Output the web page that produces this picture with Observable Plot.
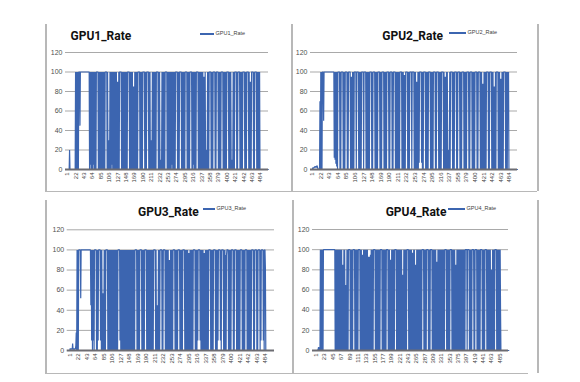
<!DOCTYPE html>
<html>
<head>
<meta charset="utf-8">
<script src="https://cdn.jsdelivr.net/npm/d3@7"></script>
<script src="https://cdn.jsdelivr.net/npm/@observablehq/plot@0.6"></script>
<style>
  html, body { margin:0; padding:0; background:#fff; }
  #root { position:relative; width:580px; height:382px; overflow:hidden; background:#fff; }
  .title { position:absolute; font-family:Roboto, "Liberation Sans", sans-serif; font-weight:700; font-size:12px; line-height:1; color:#111; white-space:nowrap; }
  .legtext { position:absolute; font-family:"Liberation Sans", Arial, sans-serif; font-size:5.5px; line-height:1; color:#404040; white-space:nowrap; }
  .legline { position:absolute; height:2px; background:#3C65B0; }
  .bline { position:absolute; background:#b8b8b8; }
</style>
</head>
<body>
<div id="root"></div>
<script>
// ---------- data ----------
const seriesNames = ["GPU1_Rate", "GPU2_Rate", "GPU3_Rate", "GPU4_Rate"];
const yTicks = [0, 20, 40, 60, 80, 100, 120];
const xTicks21 = [1,22,43,64,85,106,127,148,169,190,211,232,253,274,295,316,337,358,379,400,421,442,463,484];
const xTicks22 = [1,23,45,67,89,111,133,155,177,199,221,243,265,287,309,331,353,375,397,419,441,463,485];

const gpu1 = [
0,0,0,0,0,0,20,0,0,0,0,0,0,0,0,0,0,0,0,0,
0,100,0,100,0,100,0,100,0,100,100,100,45,100,100,100,100,100,100,100,
100,100,100,100,100,100,100,100,100,100,100,100,100,100,100,100,0,100,5,100,
0,100,0,100,0,100,5,100,0,100,0,100,0,100,100,100,100,100,0,100,
0,100,0,100,0,100,0,100,0,100,0,100,0,100,0,100,100,100,100,100,
0,100,0,30,0,30,0,100,0,100,0,100,5,100,0,100,0,100,0,100,
0,100,0,100,0,90,0,90,0,100,0,100,100,100,100,100,0,100,0,100,
0,100,0,100,0,100,0,100,0,100,0,100,100,100,100,100,0,100,0,100,
0,100,0,100,0,85,0,85,0,100,0,100,0,100,0,100,0,100,100,100,
100,100,0,100,0,100,0,100,0,100,100,100,100,100,0,100,0,100,0,100,
100,100,100,100,0,100,0,100,0,30,0,30,0,100,0,100,0,100,0,100,
0,100,0,100,100,100,100,100,0,100,0,100,0,10,0,10,0,100,0,100,
0,100,0,100,0,100,100,100,100,100,0,100,0,100,0,100,0,100,0,100,
0,100,5,100,0,100,0,100,0,100,0,100,100,100,100,100,0,100,0,100,
0,100,100,100,100,100,0,100,0,100,0,100,0,100,0,100,100,100,100,100,
0,100,0,100,0,100,0,100,100,100,100,100,0,100,0,100,5,100,0,100,
0,100,0,100,100,100,100,100,0,100,0,100,0,100,0,100,0,100,0,100,
0,95,0,95,0,100,0,20,0,20,0,100,0,100,0,100,100,100,100,100,
0,100,0,100,0,100,100,100,100,100,0,100,0,100,100,100,100,100,0,100,
0,100,0,100,0,100,100,100,100,100,0,100,0,100,0,100,0,100,0,100,
100,100,100,100,0,100,0,100,0,100,0,10,0,10,0,100,0,100,0,100,
100,100,100,100,0,100,0,100,100,100,100,100,0,100,0,100,0,100,0,100,
100,100,100,100,0,100,0,100,0,100,100,100,100,100,0,100,0,90,0,90,
0,100,100,100,100,100,0,100,0,100,100,100,100,100,0,100,0,100,0,100,
0,100,0,0,0,0,0,0,0,0,0,0,0,0,0,0,0,0,0,0,
0,0,0,0,0
];

const gpu2 = [
0,1,2,1,2,2,3,2,3,3,2,3,4,2,1,0,0,0,0,70,
0,100,0,100,0,100,100,100,50,100,100,100,100,100,100,100,100,100,100,100,
100,100,100,100,100,100,100,100,100,100,100,100,100,100,12,100,10,100,6,100,
3,100,0,100,100,100,100,100,0,100,0,100,100,100,100,100,0,100,0,100,
0,100,100,100,100,100,0,100,0,100,100,100,100,100,0,95,0,95,0,100,
0,100,0,100,100,100,100,100,0,100,100,100,100,100,0,100,0,100,0,100,
0,100,100,100,100,100,0,100,100,100,100,100,0,100,0,100,0,100,0,100,
0,100,100,100,100,100,0,100,0,100,100,100,100,100,0,100,0,100,0,100,
0,100,100,100,100,100,0,100,0,100,0,100,100,100,100,100,0,100,0,100,
0,100,0,100,100,100,100,100,0,100,0,100,100,100,100,100,0,100,0,100,
100,100,100,100,0,100,0,100,0,100,0,100,0,100,0,100,100,100,100,100,
0,100,0,100,0,97,0,97,0,100,100,100,100,100,0,100,0,100,0,100,
100,100,100,100,0,100,100,100,100,100,0,100,0,100,0,90,0,90,0,100,
0,100,7,100,100,100,100,100,7,100,0,100,0,100,100,100,100,100,0,100,
0,100,0,100,0,100,100,100,100,100,0,100,0,100,0,100,0,100,100,100,
100,100,0,100,0,100,100,100,100,100,0,100,0,100,0,100,0,100,100,100,
100,100,0,100,0,95,0,95,0,100,0,100,0,20,0,20,0,100,0,100,
100,100,100,100,0,100,0,100,0,100,100,100,100,100,0,100,0,100,100,100,
100,100,0,100,0,100,0,100,100,100,100,100,0,100,0,100,0,100,0,100,
100,100,100,100,0,100,0,100,100,100,100,100,0,100,0,100,0,100,0,100,
100,100,100,100,0,100,0,100,100,100,100,100,0,100,0,100,0,88,0,88,
0,100,0,100,0,100,0,100,100,100,100,100,0,100,0,100,100,100,100,100,
0,100,0,100,0,85,0,85,0,100,0,100,100,100,100,100,0,100,0,100,
0,93,0,93,0,100,0,100,0,100,100,100,100,100,0,100,0,100,0,100,
95,100,0,0,0,0,0,0,0,0,0,0,0,0,0,0,0,0,0,0,
0,0,0,0,0
];

const gpu3 = [
0,2,1,2,1,2,1,7,1,2,1,1,2,1,2,5,18,0,100,0,
100,0,100,100,100,100,100,52,100,100,100,100,100,100,100,100,100,100,100,100,
100,100,100,100,100,100,100,100,100,100,100,100,45,100,10,100,0,100,10,100,
0,100,100,100,100,100,0,100,0,100,10,100,100,100,100,100,10,100,0,100,
0,57,0,57,0,100,0,100,0,100,100,100,100,100,0,100,0,100,0,100,
0,100,0,100,0,100,0,100,0,100,0,100,0,100,0,100,0,100,0,100,
100,100,100,100,10,100,0,100,0,100,0,100,0,100,0,100,0,100,0,100,
0,100,0,100,0,100,0,100,0,100,0,100,0,100,0,100,0,100,0,100,
0,100,100,100,100,100,0,100,0,100,0,100,0,100,100,100,100,100,0,100,
0,100,0,100,0,100,100,100,100,100,0,100,0,100,0,100,0,100,0,100,
0,100,0,100,0,100,0,100,100,100,100,100,0,100,0,45,0,45,0,100,
0,100,0,100,100,100,100,100,0,100,0,100,100,100,100,100,0,100,0,100,
0,100,0,100,0,90,0,90,0,100,0,100,0,100,0,100,100,100,100,100,
0,100,0,100,0,100,0,100,100,100,100,100,0,100,0,100,0,100,0,100,
100,100,100,100,0,100,0,100,0,100,0,100,0,97,0,97,0,100,0,100,
0,100,0,100,0,100,100,100,100,100,0,100,0,100,0,100,10,100,100,100,
100,100,10,100,0,100,0,100,0,100,0,97,0,97,0,100,0,100,0,100,
0,100,0,100,100,100,100,100,0,100,0,100,0,100,0,100,100,100,100,100,
0,100,0,100,0,100,10,100,100,100,100,100,10,100,0,100,100,100,100,100,
0,100,0,100,0,95,0,95,100,100,100,100,0,100,0,100,0,100,0,100,
100,100,100,100,0,100,0,100,100,100,100,100,0,100,0,100,0,100,0,100,
0,100,100,100,100,100,0,100,0,100,0,100,0,100,100,100,100,100,0,100,
0,100,0,100,0,100,0,100,0,100,100,100,100,100,0,100,0,100,100,100,
100,100,0,100,0,100,100,100,100,100,0,100,10,100,100,100,100,100,10,100,
0,100,100,82,0,0,0,0,0,0,0,0,0,0,0,0,0,0,0,0,
0,0,0,0,0
];

const gpu4 = [
0,0,0,0,0,1,3,3,1,0,0,100,0,100,0,100,0,100,0,100,
100,100,100,100,100,100,100,100,100,100,100,100,100,100,100,100,100,100,100,100,
100,100,100,100,100,100,100,100,100,100,0,100,0,100,0,100,0,100,0,100,
0,100,0,100,0,100,0,100,0,85,0,85,0,100,0,100,0,65,0,65,
0,100,0,100,0,100,100,100,100,100,0,100,0,100,0,100,0,100,100,100,
100,100,0,100,0,100,0,100,0,100,0,100,100,100,100,100,0,100,0,100,
0,95,0,95,0,100,0,100,0,100,0,100,0,100,0,100,0,93,0,93,
0,93,0,95,0,100,0,100,0,100,0,100,100,100,100,100,0,100,0,100,
0,100,0,100,0,100,0,100,0,100,100,100,100,100,0,100,0,100,0,100,
0,100,0,100,0,100,100,100,100,100,0,100,0,100,0,90,0,90,0,100,
0,100,0,100,0,100,0,100,100,100,100,100,0,100,0,100,0,100,0,100,
0,100,0,100,0,100,0,75,0,75,0,100,0,100,0,100,0,100,0,100,
100,100,100,100,0,100,0,100,0,100,0,100,0,97,0,97,0,100,0,100,
0,85,0,85,0,100,0,100,0,100,0,100,0,100,0,100,0,100,0,100,
100,100,100,100,0,100,0,100,0,100,0,100,100,100,100,100,0,100,0,100,
0,100,100,100,100,100,0,100,0,100,0,100,0,100,0,100,0,88,0,88,
0,100,0,100,0,100,0,100,0,100,0,100,0,100,0,100,0,100,0,100,
100,100,100,100,0,100,0,100,0,100,0,100,0,100,100,100,100,100,0,100,
0,100,0,100,0,100,0,85,0,85,0,100,0,100,0,100,0,100,0,100,
0,100,0,100,0,100,0,100,0,100,0,100,0,100,100,100,100,100,0,100,
100,100,100,100,0,100,0,100,0,100,0,100,100,100,100,100,0,100,0,100,
100,100,100,100,0,100,0,100,0,100,0,100,0,100,100,100,100,100,0,100,
0,100,0,100,0,100,100,100,100,100,0,100,0,100,0,100,0,100,0,100,
0,80,0,80,0,100,0,100,0,100,0,100,100,100,100,100,0,100,0,100,
0,100,0,100,0,100,40,0,0,0,0,0,0,0,0,0,0,0,0,0,
0,0,0,0,0,0,0,0,0,0
];

// ---------- layout ----------
const BLUE = "#3C65B0";
const panels = [
  {values: gpu1, name: seriesNames[0], ticks: xTicks21, left: 45, top: 27, width: 246, height: 164,
   m: {l: 20, r: 23, t: 25, b: 22}, xd: [-3.2, 504.3],
   title: [70.5, 29.5], leg: [200, 34, 14]},
  {values: gpu2, name: seriesNames[1], ticks: xTicks21, left: 291, top: 27, width: 246, height: 164,
   m: {l: 19, r: 20, t: 25, b: 22}, xd: [-3.2, 504],
   title: [382.3, 29.5], leg: [449, 33, 17]},
  {values: gpu3, name: seriesNames[2], ticks: xTicks21, left: 45, top: 200, width: 247, height: 173,
   m: {l: 21.7, r: 18, t: 29.3, b: 23}, xd: [-5.4, 506.5],
   title: [138, 205.5], leg: [203, 209, 12]},
  {values: gpu4, name: seriesNames[3], ticks: xTicks22, left: 292, top: 200, width: 245, height: 173,
   m: {l: 20, r: 29, t: 29, b: 23}, xd: [-8.8, 508],
   title: [385.7, 205.5], leg: [448, 209, 17]}
];

const root = document.getElementById("root");

function addDiv(cls, css, text) {
  const d = document.createElement("div");
  d.className = cls;
  Object.assign(d.style, css);
  if (text != null) d.textContent = text;
  root.appendChild(d);
  return d;
}

// panel frame lines
[[45, 24, 1.5, 167], [291, 24, 2, 167], [537, 24, 1.5, 167], [45, 191, 492, 1],
 [45, 200, 1.5, 173], [292, 200, 2, 173], [537, 200, 1.5, 173], [45, 373, 483, 1]]
  .forEach(([x, y, w, h]) => addDiv("bline", {left: x + "px", top: y + "px", width: w + "px", height: h + "px"}));

for (const p of panels) {
  const rows = p.values.map((v, i) => ({i: i + 1, v}));
  const chart = Plot.plot({
    width: p.width,
    height: p.height,
    marginLeft: p.m.l,
    marginRight: p.m.r,
    marginTop: p.m.t,
    marginBottom: p.m.b,
    x: {domain: p.xd, label: null},
    y: {domain: [0, 120], label: null},
    style: {background: "transparent", fontFamily: "'Liberation Sans', Arial, sans-serif", color: "#505050"},
    marks: [
      Plot.ruleY(yTicks.slice(1), {stroke: "#a9a9a9", strokeWidth: 1}),
      Plot.lineY(rows, {x: "i", y: "v", stroke: BLUE, strokeWidth: 1.2, strokeLinejoin: "miter", strokeLinecap: "butt"}),
      Plot.ruleY([0], {stroke: "#6c6c72", strokeWidth: 2.2}),
      Plot.axisY(yTicks, {tickSize: 0, tickPadding: 3, fontSize: 7, fill: "#505050"}),
      Plot.axisX(p.ticks, {tickSize: 0, tickPadding: 3, tickRotate: -90, fontSize: 6, fill: "#404040", tickFormat: d => String(d)})
    ]
  });
  chart.style.position = "absolute";
  chart.style.left = p.left + "px";
  chart.style.top = p.top + "px";
  root.appendChild(chart);

  addDiv("title", {left: p.title[0] + "px", top: p.title[1] + "px"}, p.name);
  addDiv("legline", {left: p.leg[0] + "px", top: (p.leg[1] - 1) + "px", width: p.leg[2] + "px"});
  addDiv("legtext", {left: (p.leg[0] + p.leg[2] + 1.5) + "px", top: (p.leg[1] - 3) + "px"}, p.name);
}
</script>
</body>
</html>
